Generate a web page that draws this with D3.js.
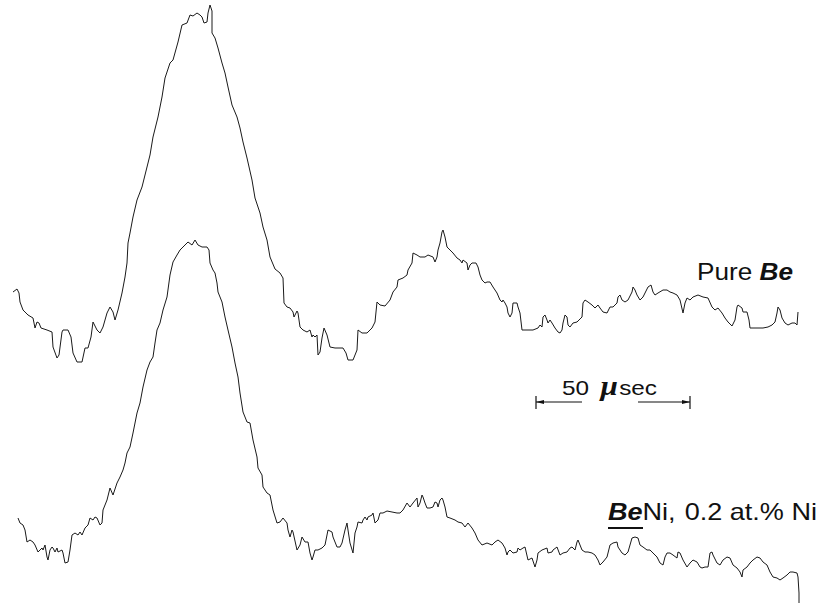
<!DOCTYPE html>
<html>
<head>
<meta charset="utf-8">
<script src="https://cdn.jsdelivr.net/npm/d3@7"></script>
<style>
  body { margin: 0; background: #fff; }
  svg { display: block; }
  .trace { fill: none; stroke: #1a1a1a; stroke-width: 1; stroke-linejoin: round; }
  .lbl { font-family: "Liberation Sans", Arial, sans-serif; fill: #111; }
</style>
</head>
<body>
<div id="chart"></div>
<script>
// recorder traces: [channel, pen deflection]
const pureBe = [
  [13,292],[17,289],[19,293],[20,302],[23,310],[28,315],[33,318],[35,328],[37,322],[39,323],[41,328],[47,330],
  [52,332],[53,347],[57,358],[59,355],[62,332],[63,330],[68,330],[71,337],[73,353],[77,362],[82,362],[85,348],
  [88,348],[91,337],[93,322],[97,330],[100,333],[103,327],[107,313],[110,307],[113,312],[115,320],[118,310],
  [122,293],[125,277],[127,263],[128,243],[130,233],
  [133,217],[137,200],[142,187],[147,167],[150,155],[153,137],[158,117],[162,97],[165,78],[170,63],[173,60],
  [178,42],[182,25],[187,23],[190,15],[193,16],[197,13],[200,15],[202,17],[204,23],[207,22],[208,13],[210,5],
  [212,11],[212,33],[215,38],[218,48],[222,63],[225,73],[228,87],[232,105],[237,117],[240,128],[243,142],
  [247,158],[252,180],[255,198],[260,213],[263,227],[267,240],[270,257],[275,269],[280,273],[283,278],[284,303],
  [287,307],[290,308],[293,312],[294,317],[297,311],[298,313],[300,327],[303,330],[307,332],[310,330],[312,337],
  [313,335],[315,337],[317,335],[318,355],[320,352],[322,338],[324,328],[327,335],[330,347],[335,348],[340,348],
  [343,348],[346,353],[348,360],[353,360],[357,350],[358,330],[362,333],[367,333],[372,328],[375,322],[377,302],
  [380,305],[385,306],[390,300],[393,292],[397,287],[398,280],[403,278],[407,275],[408,270],[412,263],[413,253],
  [417,255],[420,257],[425,257],[428,255],[433,257],[435,262],[437,257],[438,250],[440,243],[442,232],[443,230],
  [445,237],[447,247],[450,250],[453,253],[457,258],[460,260],[462,263],[463,260],[467,263],[468,270],[470,265],
  [472,263],[476,263],[478,267],[480,275],[482,280],[485,283],[487,282],[490,282],[493,287],[495,290],[497,293],
  [500,300],[502,302],[503,300],[505,303],[507,307],[508,313],[510,317],[512,313],[513,303],[517,303],[518,307],
  [520,313],[522,330],[527,330],[533,330],[538,328],[540,325],[542,327],[543,317],[545,315],[547,320],[548,323],
  [550,320],[552,323],[555,328],[558,332],[560,333],[562,330],[563,323],[565,315],[567,317],[568,325],[570,327],
  [573,323],[577,322],[582,317],[583,303],[585,300],[588,302],[592,305],[595,308],[598,305],[600,308],[603,312],
  [607,313],[610,307],[613,307],[617,303],[618,297],[620,295],[622,300],[625,302],[628,300],[632,292],[633,287],
  [635,290],[637,295],[640,300],[643,297],[648,287],[651,285],[653,292],[655,295],[658,293],[663,290],[667,290],
  [670,292],[673,293],[677,295],[680,300],[683,313],[685,303],[687,298],[690,300],[693,297],[698,295],[703,297],
  [708,298],[712,307],[715,310],[718,308],[722,313],[725,318],[728,322],[732,326],[735,320],[737,307],[738,305],
  [742,308],[743,312],[747,312],[749,320],[750,328],[757,328],[763,328],[768,327],[772,325],[775,322],[777,313],
  [778,307],[780,310],[782,318],[785,323],[788,325],[792,323],[795,323],[797,325],[798,312]
];

const beNi = [
  [18,518],[20,523],[23,525],[25,530],[27,542],[30,540],[33,542],[35,545],[38,552],[42,548],[43,550],[45,545],
  [47,557],[48,560],[50,550],[52,547],[53,548],[55,552],[57,548],[58,552],[62,550],[63,553],[65,563],[68,562],
  [70,550],[72,535],[75,533],[78,535],[80,532],[82,535],[85,528],[88,525],[90,518],[93,520],[95,517],[97,518],
  [100,525],[102,523],[103,510],[107,500],[110,488],[113,495],[117,483],[120,477],[123,470],[125,463],[127,453],
  [130,447],[133,433],[135,423],[137,413],[140,403],[143,387],[147,370],[150,362],[153,357],[155,343],[157,330],
  [160,323],[163,310],[167,297],[170,275],[173,262],[177,255],[180,250],[185,245],[188,242],[192,245],[195,240],
  [198,245],[202,247],[207,247],[209,250],[210,263],[213,270],[215,273],[217,283],[218,292],[222,302],[225,317],
  [228,330],[232,347],[235,363],[238,377],[240,393],[243,412],[247,422],[250,423],[253,440],[257,457],[258,468],
  [262,475],[263,487],[267,493],[270,495],[273,510],[277,523],[280,522],[283,518],[287,523],[288,530],[290,537],
  [292,530],[293,532],[297,550],[300,545],[302,537],[305,542],[308,542],[310,553],[312,560],[313,557],[315,550],
  [318,550],[322,548],[325,545],[328,530],[332,532],[333,537],[337,547],[340,547],[342,543],[345,530],[347,523],
  [348,530],[350,543],[353,553],[355,533],[357,527],[358,522],[362,523],[363,520],[365,517],[367,520],[368,517],
  [372,515],[373,513],[375,523],[378,520],[380,513],[383,513],[387,511],[392,512],[397,513],
  [400,513],[403,510],[407,503],[410,507],[413,503],[417,498],[418,507],[420,503],[422,495],[423,497],[425,503],
  [427,508],[430,508],[433,507],[435,502],[437,503],[438,507],[440,500],[442,498],[443,500],[445,507],[447,517],
  [450,518],[455,520],[458,522],[462,523],[465,527],[468,523],[472,528],[475,533],[478,540],[482,545],[487,543],
  [492,545],[495,542],[498,540],[502,543],[505,548],[507,555],[508,552],[510,550],[513,553],[517,552],[518,548],
  [520,550],[523,548],[525,547],[528,560],[532,558],[535,567],[537,560],[538,553],[542,550],[547,548],[548,553],
  [552,552],[553,550],[557,547],[560,555],[563,553],[567,552],[570,548],[572,547],[575,550],[577,542],[578,540],
  [582,550],[585,552],[588,552],[592,553],[595,555],[598,560],[600,565],[603,562],[607,557],[610,545],[613,543],
  [617,542],[618,547],[622,553],[625,555],[628,552],[632,538],[635,537],[638,538],[640,545],[643,547],[647,550],
  [650,550],[653,553],[657,557],[660,563],[663,565],[665,557],[667,553],[670,553],[673,555],[677,558],[678,552],
  [680,553],[683,560],[687,567],[690,563],[693,560],[697,562],[700,567],[702,568],[705,567],[708,567],[710,553],
  [712,552],[713,555],[717,563],[720,565],[723,560],[727,557],[730,558],[733,565],[737,568],[740,572],[742,577],
  [743,570],[747,567],[750,563],[753,560],[757,557],[760,558],[763,562],[767,565],[770,572],[773,577],[777,578],
  [780,580],[783,578],[787,575],[790,572],[793,572],[797,573],[798,577],[799,593],[799,603]
];

// 50 microsecond scale bar, in channels
const scaleBar = { from: 536, to: 690, level: 402, label: "50" };

const width = 819, height = 605;

const x = d3.scaleLinear().domain([0, 819]).range([0, width]);
const y = d3.scaleLinear().domain([0, 605]).range([0, height]);

const svg = d3.select("#chart").append("svg")
    .attr("width", width)
    .attr("height", height)
    .attr("viewBox", `0 0 ${width} ${height}`);

const line = d3.line()
    .x(d => x(d[0]))
    .y(d => y(d[1]))
    .curve(d3.curveLinear);

svg.selectAll("path.trace")
    .data([pureBe, beNi])
    .enter()
    .append("path")
    .attr("class", "trace")
    .attr("d", line);

// scale bar
const bar = svg.append("g").attr("stroke", "#111").attr("stroke-width", 1.2).attr("fill", "#111");
const bx0 = x(scaleBar.from), bx1 = x(scaleBar.to), by = y(scaleBar.level);
bar.append("line").attr("x1", bx0).attr("x2", bx0 + 46).attr("y1", by).attr("y2", by);
bar.append("line").attr("x1", bx1 - 52).attr("x2", bx1).attr("y1", by).attr("y2", by);
bar.append("line").attr("x1", bx0).attr("x2", bx0).attr("y1", by - 6).attr("y2", by + 7);
bar.append("line").attr("x1", bx1).attr("x2", bx1).attr("y1", by - 6).attr("y2", by + 7);
bar.append("path").attr("stroke", "none")
    .attr("d", `M${bx0},${by}L${bx0 + 8},${by - 2}L${bx0 + 8},${by + 2}Z`);
bar.append("path").attr("stroke", "none")
    .attr("d", `M${bx1},${by}L${bx1 - 8},${by - 2}L${bx1 - 8},${by + 2}Z`);

const barText = svg.append("text").attr("class", "lbl")
    .attr("x", 562).attr("y", 395)
    .attr("font-size", 21)
    .attr("textLength", 95).attr("lengthAdjust", "spacingAndGlyphs");
barText.append("tspan").text(scaleBar.label);
barText.append("tspan").attr("dx", 10).attr("font-weight", "bold").attr("font-style", "italic")
    .attr("font-size", 27).attr("font-family", "Liberation Serif, serif").text("μ");
barText.append("tspan").attr("dx", 1).text("sec");

// labels
const t1 = svg.append("text").attr("class", "lbl")
    .attr("x", 697).attr("y", 280).attr("font-size", 24)
    .attr("textLength", 96).attr("lengthAdjust", "spacingAndGlyphs");
t1.append("tspan").text("Pure ");
t1.append("tspan").attr("font-weight", "bold").attr("font-style", "italic").text("Be");

const t2 = svg.append("text").attr("class", "lbl")
    .attr("x", 608).attr("y", 520).attr("font-size", 24)
    .attr("textLength", 209).attr("lengthAdjust", "spacingAndGlyphs");
t2.append("tspan").attr("font-weight", "bold").attr("font-style", "italic").text("Be");
t2.append("tspan").text("Ni,");
t2.append("tspan").attr("dx", 8).text("0.2 at.% Ni");
svg.append("line").attr("x1", 608).attr("x2", 643).attr("y1", 528).attr("y2", 528)
    .attr("stroke", "#111").attr("stroke-width", 2.2);
</script>
</body>
</html>
